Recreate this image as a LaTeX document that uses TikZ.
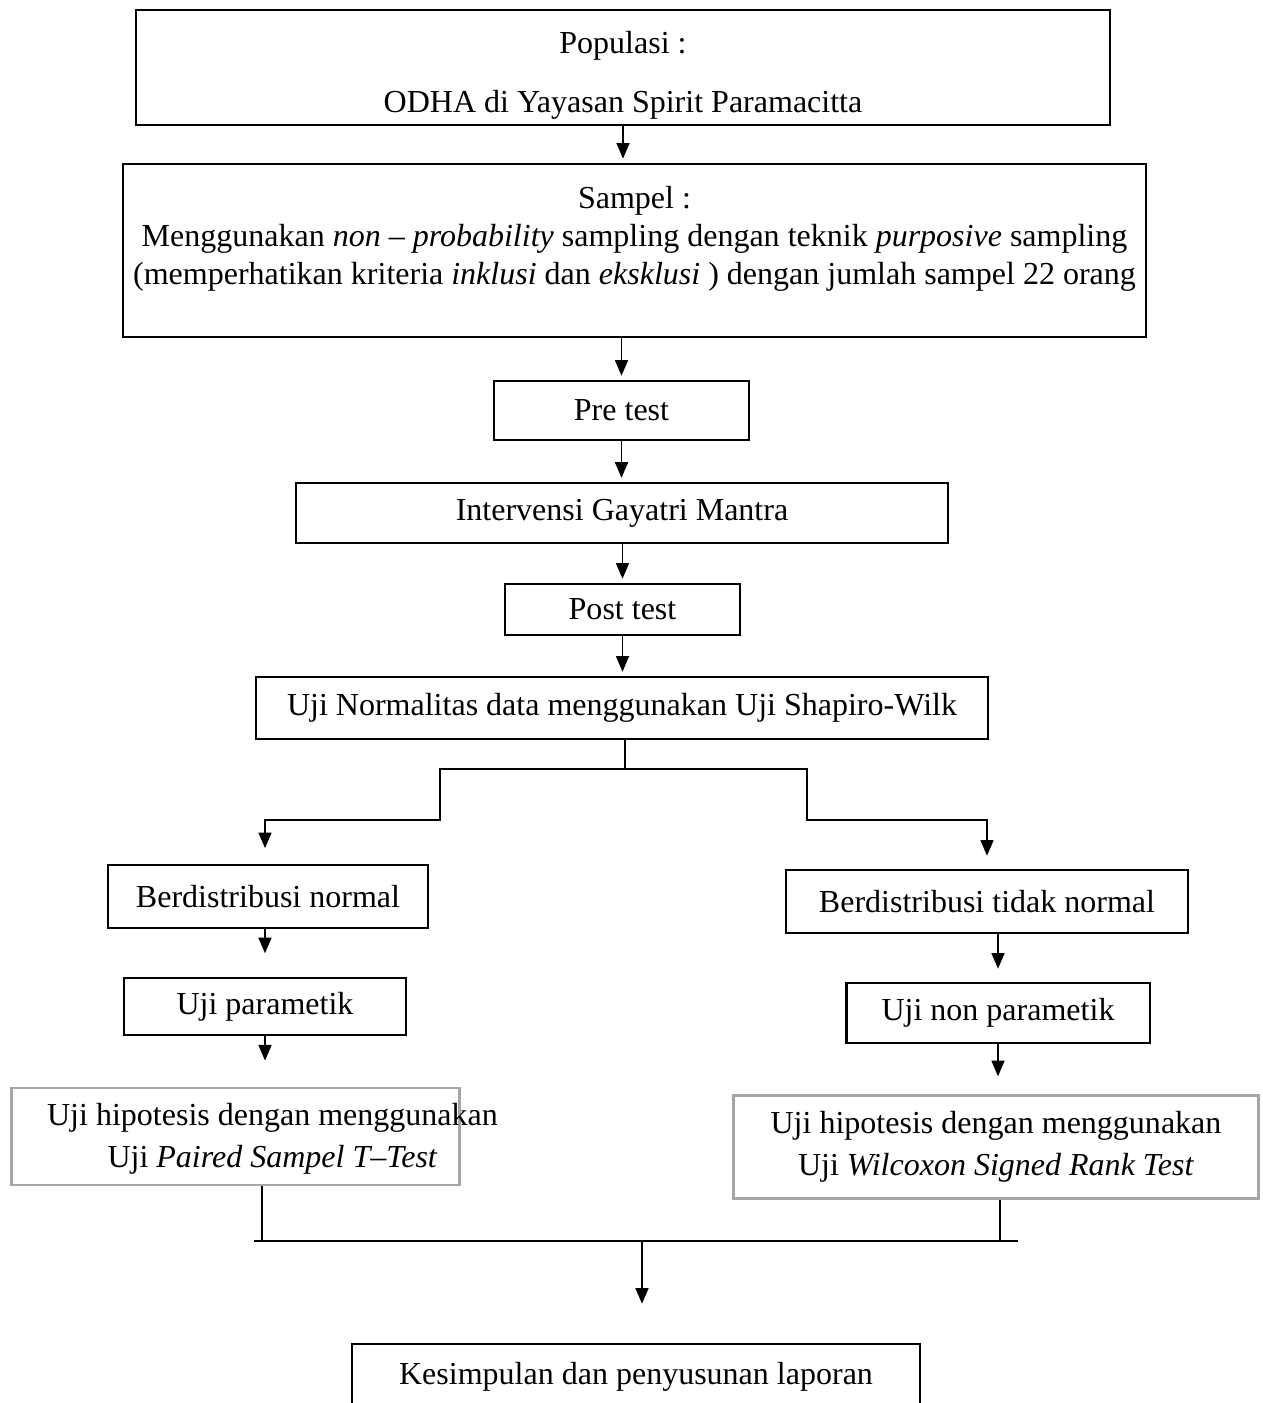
\documentclass[tikz,border=0pt]{standalone}
\usepackage{fontspec}
\setmainfont{Liberation Serif}
\usetikzlibrary{arrows.meta}

\begin{document}
\begin{tikzpicture}[x=0.0135cm, y=-0.0135cm,
	every node/.style={font=\fontsize{12.3}{14.6}\selectfont},
	kotak/.style={draw, line width=1pt, align=center, inner sep=0pt},
	kotakabu/.style={draw=black!35, line width=1.1pt, align=center, inner sep=0pt},
	panah/.style={-{Triangle[length=6pt,width=5pt]}, line width=0.6pt, shorten >=1.5pt},
	garis/.style={line width=0.6pt}]
	\useasboundingbox (0,0) rectangle (1262,1403);
	% alur utama
	\node[kotak, minimum width=13.15cm, minimum height=1.55cm] (pop) at (623,67.5) {\rule{0pt}{14.6pt}Populasi :\\[8.1pt] ODHA di Yayasan Spirit Paramacitta};
	\node[kotak, minimum width=13.81cm, minimum height=2.34cm] (sampel) at (634.5,250.5) {Sampel :\\ Menggunakan \textit{non – probability} sampling dengan teknik \textit{purposive} sampling\\ (memperhatikan kriteria \textit{inklusi} dan \textit{eksklusi} ) dengan jumlah sampel 22 orang\rule[-11.4pt]{0pt}{1pt}};
	\node[kotak, minimum width=3.44cm, minimum height=0.8cm] (pre) at (621.5,410.5) {Pre test};
	\node[kotak, minimum width=8.8cm, minimum height=0.81cm] (interv) at (622,513) {Intervensi Gayatri Mantra};
	\node[kotak, minimum width=3.17cm, minimum height=0.69cm] (post) at (622.5,609.5) {Post test};
	\node[kotak, minimum width=9.88cm, minimum height=0.84cm] (norm) at (622,708) {Uji Normalitas data menggunakan Uji Shapiro-Wilk};
	% cabang kiri
	\node[kotak, minimum width=4.32cm, minimum height=0.85cm] (dnorm) at (268,896.5) {Berdistribusi normal};
	\node[kotak, minimum width=3.81cm, minimum height=0.77cm] (upar) at (265,1006.5) {Uji parametik};
	\node[kotakabu, minimum width=6.06cm, minimum height=1.31cm] (hipkiri) at (235.5,1136.5) {};
	\node[align=center, inner sep=0pt] (tekskiri) at (272.5,1139) {Uji hipotesis dengan menggunakan\\[1.5pt] Uji \textit{Paired Sampel T–Test}};
	% cabang kanan
	\node[kotak, minimum width=5.43cm, minimum height=0.85cm] (dtidak) at (987,901.5) {Berdistribusi tidak normal};
	\node[kotak, minimum width=4.1cm, minimum height=0.81cm] (nonpar) at (998,1013) {Uji non parametik};
	\node[kotakabu, minimum width=7.1cm, minimum height=1.38cm] (hipkanan) at (996,1147) {Uji hipotesis dengan menggunakan\\[1.5pt] Uji \textit{Wilcoxon Signed Rank Test}};
	\node[kotak, minimum width=7.67cm, minimum height=0.89cm] (kes) at (636,1377) {Kesimpulan dan penyusunan laporan};

	\coordinate (tengah) at (625,769);
	\coordinate (bkiri) at (440,820);
	\coordinate (bkanan) at (807,820);
	\coordinate (gkiri) at (262,1241);
	\coordinate (gkanan) at (1000,1241);
	\coordinate (gabung) at (642,1241);

	\draw[panah] (pop.south) -- (pop.south |- sampel.north);
	\draw[panah] (pre.north |- sampel.south) -- (pre.north);
	\draw[panah] (pre.south) -- (pre.south |- interv.north);
	\draw[panah] (post.north |- interv.south) -- (post.north);
	\draw[panah] (post.south) -- (post.south |- norm.north);
	\draw[garis] (tengah |- norm.south) -- (tengah);
	\draw[panah, shorten >=6pt] (tengah) -| (bkiri) -| (upar.north |- dnorm.north);
	\draw[panah, shorten >=5pt] (tengah) -| (bkanan) -| (dtidak.north);
	\draw[panah, shorten >=9pt] (upar.north |- dnorm.south) -- (upar.north);
	\draw[panah, shorten >=10pt] (upar.south) -- (upar.south |- hipkiri.north);
	\draw[panah, shorten >=5pt] (nonpar.north |- dtidak.south) -- (nonpar.north);
	\draw[panah, shorten >=7pt] (nonpar.south) -- (nonpar.south |- hipkanan.north);
	\draw[garis] (gkiri |- hipkiri.south) -- (gkiri);
	\draw[garis] (gkanan |- hipkanan.south) -- (gkanan);
	\draw[garis] ([xshift=-3]gkiri) -- ([xshift=7]gkanan);
	\draw[panah, shorten >=15pt] (gabung) -- (gabung |- kes.north);
\end{tikzpicture}
\end{document}
